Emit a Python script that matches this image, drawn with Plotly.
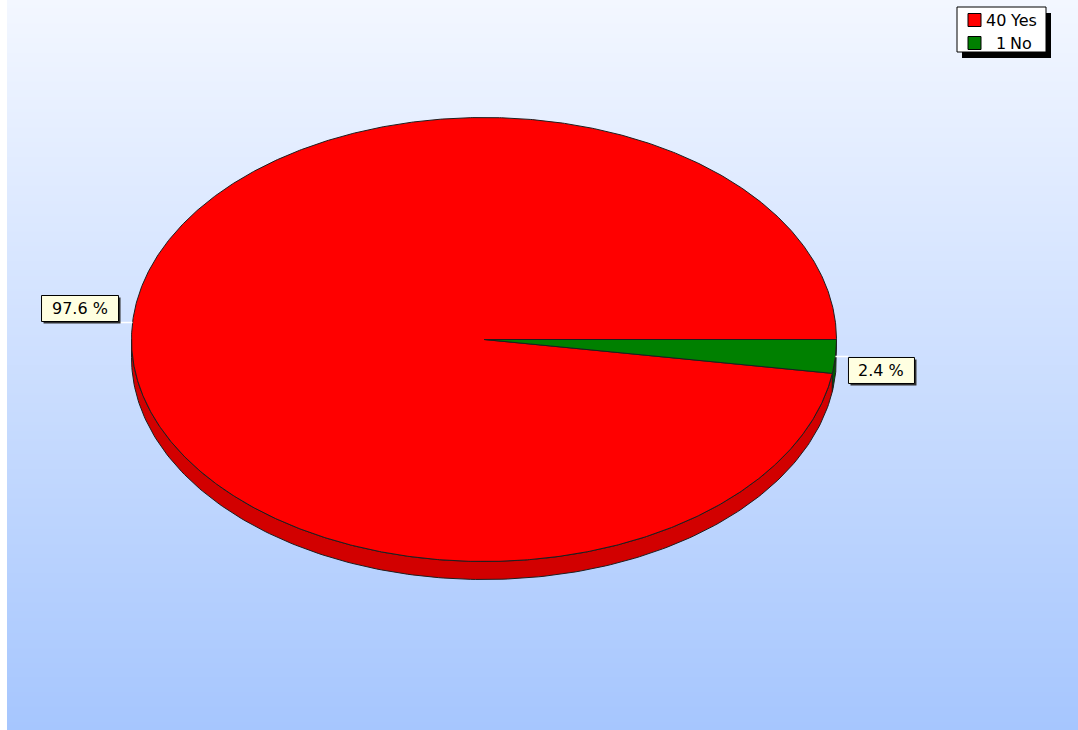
import numpy as np
import plotly.graph_objects as go

# Survey answers
labels = ["Yes", "No"]
counts = [40, 1]
top_colors = ["#ff0000", "#008000"]
side_colors = ["#d20000", "#005a00"]

W, H = 1078, 730
CX, CY = 484.0, 339.5      # pie centre (pixels)
RX, RY = 352.5, 222.0      # ellipse radii of the top face
DEPTH = 18                 # thickness of the tilted disc
EDGE = "#1e1e1e"
FONT = dict(family="DejaVu Sans", size=16, color="#000000")

total = sum(counts)
fracs = [c / total for c in counts]
pct_text = [f"{100 * f:.1f} %" for f in fracs]


def pt(theta_deg, dy=0.0):
    t = np.radians(theta_deg)
    return CX + RX * np.cos(t), CY - RY * np.sin(t) + dy


fig = go.Figure()

# gradient backdrop
rows = 730
yb = np.linspace(0, H, rows + 1)
zb = np.linspace(0, 1, rows).reshape(-1, 1)
fig.add_trace(go.Heatmap(
    x=[7, W], y=yb, z=zb, zsmooth=False, showscale=False, hoverinfo="skip",
    colorscale=[[0, "#f3f7ff"], [1, "#a6c6fe"]],
))

# slice angle ranges, counter-clockwise from 3 o'clock
bounds = []
start = 0.0
for f in fracs:
    bounds.append((start, start + 360.0 * f))
    start += 360.0 * f

# side walls (only the front half is visible)
for (a0, a1), col in zip(bounds, side_colors):
    lo, hi = max(a0, 180.0), min(a1, 360.0)
    if hi <= lo:
        continue
    th = np.linspace(lo, hi, 200)
    xt, yt = pt(th)
    xb, yb2 = pt(th[::-1], DEPTH)
    fig.add_trace(go.Scatter(
        x=np.concatenate([xt, xb, xt[:1]]), y=np.concatenate([yt, yb2, yt[:1]]),
        mode="lines", fill="toself", fillcolor=col,
        line=dict(color=EDGE, width=1), hoverinfo="skip", showlegend=False,
    ))

# top faces
for (a0, a1), col, name in zip(bounds, top_colors, labels):
    n = max(int((a1 - a0) * 3), 8)
    th = np.linspace(a0, a1, n)
    xa, ya = pt(th)
    fig.add_trace(go.Scatter(
        x=np.concatenate([[CX], xa, [CX]]), y=np.concatenate([[CY], ya, [CY]]),
        mode="lines", fill="toself", fillcolor=col, name=name,
        line=dict(color=EDGE, width=1), hoverinfo="skip", showlegend=False,
    ))

shapes = []
annotations = []

# percentage callouts
for (a0, a1), txt in zip(bounds, pct_text):
    mid = (a0 + a1) / 2
    ax, ay = pt(mid)
    bw, bh = 11 * (len(txt) + 1), 26
    if np.cos(np.radians(mid)) < 0:
        lx = ax - 14
        x0, x1 = lx - bw, lx
    else:
        lx = ax + 13
        x0, x1 = lx, lx + bw
    if ay < CY:
        y0, y1 = ay - 1 - bh, ay - 1
    else:
        y0, y1 = ay + 1, ay + 1 + bh
    shapes.append(dict(type="line", x0=ax, y0=ay, x1=lx, y1=ay,
                       line=dict(color="#ffffff", width=1.5), layer="above"))
    shapes.append(dict(type="rect", x0=x0 + 2, y0=y0 + 2, x1=x1 + 2, y1=y1 + 2,
                       fillcolor="#303030", line=dict(width=0), layer="above"))
    shapes.append(dict(type="rect", x0=x0, y0=y0, x1=x1, y1=y1,
                       fillcolor="#ffffe1", line=dict(color="#000000", width=1), layer="above"))
    annotations.append(dict(x=(x0 + x1) / 2, y=(y0 + y1) / 2, text=txt, showarrow=False,
                            font=FONT, xanchor="center", yanchor="middle"))

# legend box
lx0, ly0, lx1, ly1 = 957, 7, 1046, 52
shapes.append(dict(type="rect", x0=lx0 + 5, y0=ly0 + 6, x1=lx1 + 5, y1=ly1 + 6,
                   fillcolor="#000000", line=dict(width=0), layer="above"))
shapes.append(dict(type="rect", x0=lx0, y0=ly0, x1=lx1, y1=ly1,
                   fillcolor="#ffffff", line=dict(color="#000000", width=1), layer="above"))
for i, (name, cnt, col) in enumerate(zip(labels, counts, top_colors)):
    yc = 20 + 23 * i
    shapes.append(dict(type="rect", x0=968, y0=yc - 6.5, x1=981, y1=yc + 6.5,
                       fillcolor=col, line=dict(color="#000000", width=1), layer="above"))
    annotations.append(dict(x=1008, y=yc, text=str(cnt), showarrow=False, font=FONT,
                            xanchor="right", yanchor="middle"))
    annotations.append(dict(x=1008, y=yc, text=name, showarrow=False, font=FONT,
                            xanchor="left", yanchor="middle"))

fig.update_layout(
    width=W, height=H,
    margin=dict(l=0, r=0, t=0, b=0),
    paper_bgcolor="#ffffff", plot_bgcolor="#ffffff",
    xaxis=dict(range=[0, W], visible=False, fixedrange=True),
    yaxis=dict(range=[H, 0], visible=False, fixedrange=True),
    shapes=shapes, annotations=annotations,
    showlegend=False,
)

fig.write_html("out.html", config={"displayModeBar": False})
